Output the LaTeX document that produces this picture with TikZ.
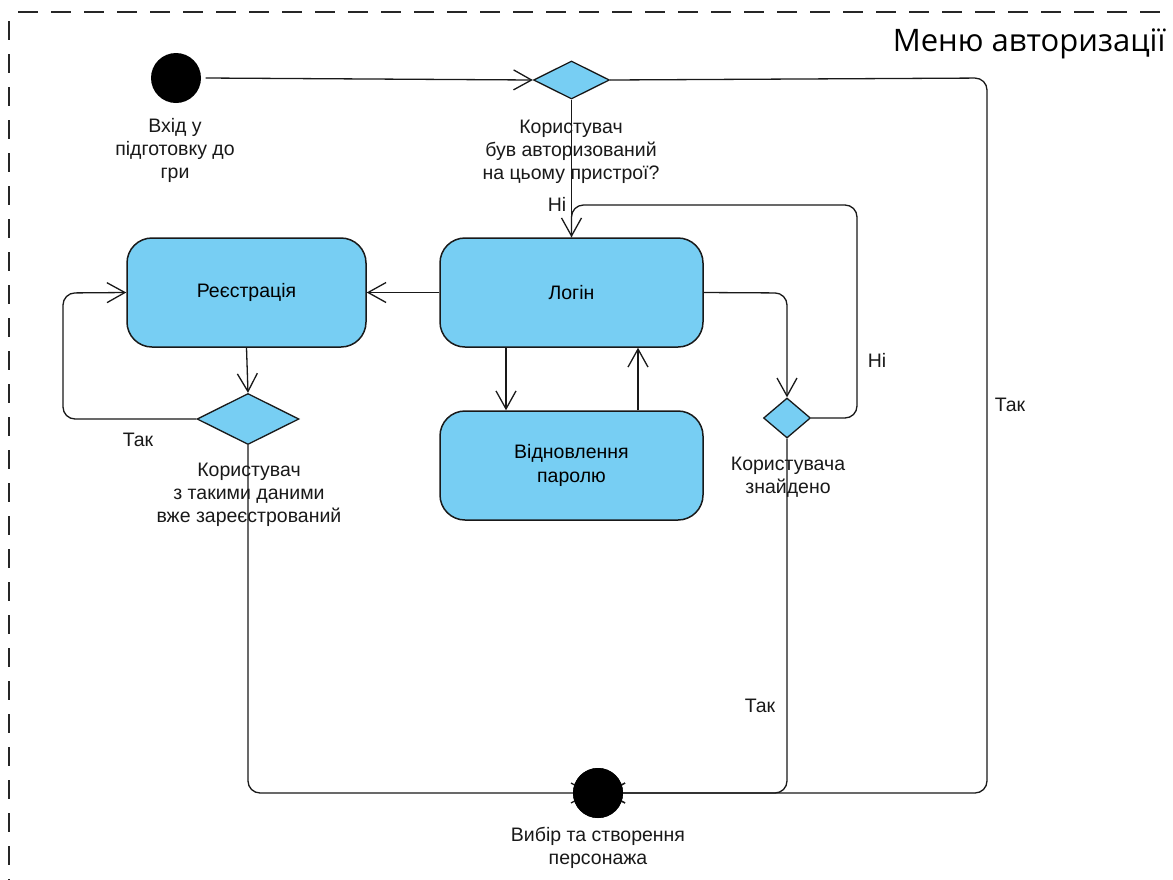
\documentclass[tikz,border=0pt]{standalone}
\usepackage{fontspec}
\setmainfont{Liberation Sans}
\newfontfamily\titlefont{Open Sans}
\usetikzlibrary{shapes.geometric,arrows.meta}
\definecolor{stateblue}{HTML}{77CEF3}
\begin{document}
\begin{tikzpicture}[x=1pt,y=-1pt,
  line width=1.3pt,
  flow/.style={draw=black!90,line width=1.3pt,rounded corners=12pt,
    -{Straight Barb[length=18pt,width=20pt,line width=1.3pt]}},
  plain/.style={draw=black!90,line width=1.3pt,rounded corners=12pt},
  state/.style={draw=black!90,fill=stateblue,rectangle,rounded corners=25pt,
    line width=1.5pt,minimum width=263pt,minimum height=109pt,inner sep=0pt,
    font=\fontsize{19.5}{23.5}\selectfont,align=center},
  choice/.style={draw=black!90,fill=stateblue,diamond,inner sep=0pt,line width=1.3pt},
  dot/.style={circle,fill=black,minimum size=50pt,inner sep=0pt},
  note/.style={font=\fontsize{19.5}{23}\selectfont,align=center,inner sep=0pt,text=black!90},
  guard/.style={font=\fontsize{19.5}{23}\selectfont,inner sep=0pt,text=black!90}]
\useasboundingbox (0,0) rectangle (1173,879);
\fill[white] (0,0) rectangle (1173,879);

% dashed frame of the activity region
\draw[black!85,line width=1.2pt,dash pattern=on 20pt off 13pt] (18,12) -- (1190,12);
\draw[black!85,line width=1.2pt,dash pattern=on 19pt off 14pt] (9,21) -- (9,900);
\node[anchor=east,inner sep=0pt,font=\titlefont\fontsize{31}{36}\selectfont] (title) at (1166,44) {Меню авторизації};

% initial and final states
\node[dot] (start) at (176,78) {};
\node[note] (startlbl) at (175,150) {Вхід у\\підготовку до\\гри};
\node[dot] (finish) at (598,793) {};
\node[note] (finishlbl) at (598,848) {Вибір та створення\\персонажа};

% states
\node[state] (login) at (571.5,292.5) {Логін};
\node[state,minimum width=239pt] (reg) at (246.5,292.5) {Реєстрація};
\node[state] (recover) at (571.5,465.5) {Відновлення\\паролю};

% decisions
\node[choice,minimum width=76pt,minimum height=38pt] (authq) at (571.5,80) {};
\node[note] (authlbl) at (571,152) {Користувач\\був авторизований\\на цьому пристрої?};
\node[choice,minimum width=102pt,minimum height=51pt] (regq) at (248,419) {};
\node[note] (reglbl) at (249,495) {Користувач\\з такими даними\\вже зареєстрований};
\node[choice,minimum width=47pt,minimum height=40pt] (foundq) at (787,418) {};
\node[note] (foundlbl) at (788,477) {Користувача\\знайдено};

% arrow tips end inside the final state
\coordinate (finL) at ([xshift=18pt]finish.west);
\coordinate (finR) at ([xshift=-18pt]finish.east);

% transitions
\draw[flow] (start.east) ++(4,0) -- (authq.west);
\draw[flow] (authq.south) -- (login.north);
\draw[flow] (authq.east) -- (987,78) -- (987,793) -- (finR);
\draw[flow] (login.west) -- (reg.east);
\draw[flow] (reg.south) -- (regq.north);
\draw[flow] (regq.west) -- (63,419) -- (63,293) -- (reg.west);
\draw[flow] (regq.south) -- (248,793) -- (finL);
\draw[flow] ([xshift=-65.5pt]login.south) -- ([xshift=-65.5pt]recover.north);
\draw[flow] ([xshift=66.5pt]recover.north) -- ([xshift=66.5pt]login.south);
\draw[flow] (login.east) -- (787,293) -- (foundq.north);
\draw[plain] (foundq.east) -- (857,418) -- (857,205) -- (571.5,205) -- (login.north);
\draw[flow] (foundq.south) -- (787,793) -- (finR);
\node[dot] at (finish) {};

% guards
\node[guard] (g1) at (557,204) {Ні};
\node[guard] (g2) at (877,360) {Ні};
\node[guard] (g3) at (1010,405) {Так};
\node[guard] (g4) at (138,440) {Так};
\node[guard] (g5) at (760,706) {Так};
\end{tikzpicture}
\end{document}
